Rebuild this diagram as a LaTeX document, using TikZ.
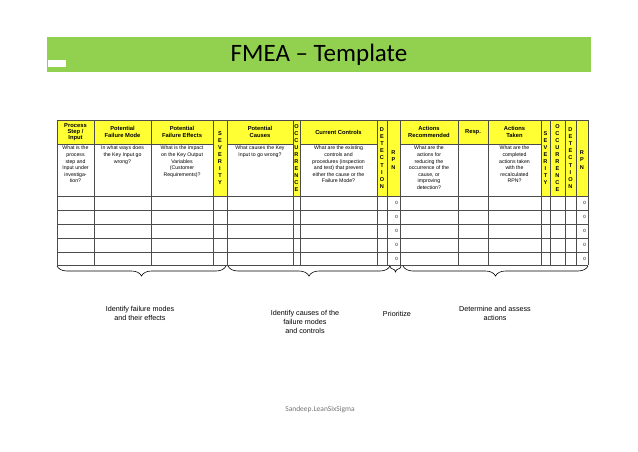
\documentclass[tikz,border=0pt]{standalone}
\usepackage{fontspec}
\setmainfont{Carlito}
\newfontfamily\arialfont{Liberation Sans}
\usetikzlibrary{decorations.pathreplacing}
\definecolor{titlegreen}{HTML}{92D050}
\definecolor{hdryellow}{HTML}{FFFF33}
\begin{document}
\begin{tikzpicture}[x=1pt,y=-1pt,
  cellline/.style={draw=black!70, line width=0.5pt},
  hdrtext/.style={font=\arialfont\fontsize{5.8}{6.2}\selectfont\bfseries, align=center, inner sep=0pt},
  desctext/.style={font=\arialfont\fontsize{5.2}{6.6}\selectfont, align=center, inner sep=0pt, anchor=north},
  vlabel/.style={font=\arialfont\fontsize{5.6}{7.1}\selectfont\bfseries, align=center, inner sep=0pt},
  note/.style={font=\arialfont\fontsize{7.2}{9}\selectfont, align=center, inner sep=0pt},
  brace/.style={decorate, decoration={brace, mirror, amplitude=10pt}, line width=0.6pt}
  ]
  \useasboundingbox (0,0) rectangle (638,452);

  % title bar
  \fill[titlegreen] (47,37) rectangle (591,72);
  \fill[white] (48,60) rectangle (66,67);
  \node[font=\fontsize{25}{28}\selectfont] (title) at (319,55) {FMEA -- Template};

  % yellow header cells and rating columns
  \fill[hdryellow] (57,120) rectangle (588,144);
  \foreach \xa/\xb in {213/227, 293/300, 377/387, 387/400, 541/550, 550/565, 565/576, 576/588}
    \fill[hdryellow] (\xa,120) rectangle (\xb,196);

  % grid
  \foreach \xx in {57,94,151,213,227,293,300,377,387,400,458,488,541,550,565,576,588}
    \draw[cellline] (\xx,120) -- (\xx,265);
  \foreach \yy in {120,196,210,224,238,252,265}
    \draw[cellline] (57,\yy) -- (588,\yy);
  \foreach \xa/\xb in {57/213, 227/293, 300/377, 400/541}
    \draw[cellline] (\xa,144) -- (\xb,144);

  % header texts
  \node[hdrtext] (hstep) at (75.5,132) {Process\\Step /\\Input};
  \node[hdrtext] (hmode) at (122.5,132) {Potential\\Failure Mode};
  \node[hdrtext] (heff) at (182,132) {Potential\\Failure Effects};
  \node[hdrtext] (hcause) at (260,132) {Potential\\Causes};
  \node[hdrtext] (hctrl) at (338.5,132) {Current Controls};
  \node[hdrtext] (hact) at (429,132) {Actions\\Recommended};
  \node[hdrtext] (hresp) at (473,132) {Resp.};
  \node[hdrtext] (htaken) at (514.5,132) {Actions\\Taken};

  % descriptions
  \node[desctext] (dstep) at (75.5,146) {What is the\\process\\step and\\Input under\\investiga-\\tion?};
  \node[desctext] (dmode) at (122.5,146) {In what ways does\\the Key Input go\\wrong?};
  \node[desctext] (deff) at (182,146) {What is the impact\\on the Key Output\\Variables\\(Customer\\Requirements)?};
  \node[desctext] (dcause) at (260,146) {What causes the Key\\Input to go wrong?};
  \node[desctext] (dctrl) at (338.5,146) {What are the existing\\controls and\\procedures (inspection\\and test) that prevent\\either the cause or the\\Failure Mode?};
  \node[desctext] (dact) at (429,146) {What are the\\actions for\\reducing the\\occurrence of the\\cause, or\\improving\\detection?};
  \node[desctext] (dtaken) at (514.5,146) {What are the\\completed\\actions taken\\with the\\recalculated\\RPN?};

  % vertical labels
  \node[vlabel] (vsev) at (220,158) {S\\E\\V\\E\\R\\I\\T\\Y};
  \node[vlabel] (vocc) at (296.5,158) {O\\C\\C\\U\\R\\R\\E\\N\\C\\E};
  \node[vlabel] (vdet) at (382,158) {D\\E\\T\\E\\C\\T\\I\\O\\N};
  \node[vlabel] (vrpn) at (393.5,160) {R\\P\\N};
  \node[vlabel] (vsevb) at (545.5,158) {S\\E\\V\\E\\R\\I\\T\\Y};
  \node[vlabel] (voccb) at (557.5,158) {O\\C\\C\\U\\R\\R\\E\\N\\C\\E};
  \node[vlabel] (vdetb) at (570.5,158) {D\\E\\T\\E\\C\\T\\I\\O\\N};
  \node[vlabel] (vrpnb) at (582,160) {R\\P\\N};

  % zero scores
  \foreach \yy [count=\i] in {203,217,231,245,258.5} {
    \node[font=\arialfont\fontsize{4.5}{5}\selectfont, anchor=east, inner sep=0pt] (za\i) at (398,\yy) {0};
    \node[font=\arialfont\fontsize{4.5}{5}\selectfont, anchor=east, inner sep=0pt] (zb\i) at (586,\yy) {0};
  }

  % braces and notes
  \coordinate (b1a) at (57,266);  \coordinate (b1b) at (226,266);
  \coordinate (b2a) at (228,266); \coordinate (b2b) at (390,266);
  \coordinate (b3a) at (390,266); \coordinate (b3b) at (401,266);
  \coordinate (b4a) at (403,266); \coordinate (b4b) at (588,266);
  \draw[brace] (b1a) -- (b1b);
  \draw[brace] (b2a) -- (b2b);
  \draw[brace, decoration={amplitude=6pt}] (b3a) -- (b3b);
  \draw[brace] (b4a) -- (b4b);
  \node[note] (n1) at (140,313) {Identify failure modes\\and their effects};
  \node[note] (n2) at (305,322) {Identify causes of the\\failure modes\\and controls};
  \node[note] (n3) at (397,314) {Prioritize};
  \node[note] (n4) at (495,313) {Determine and assess\\actions};

  \node[font=\fontsize{7.5}{9}\selectfont, text=black!55] (footer) at (320,410) {Sandeep.LeanSixSigma};
\end{tikzpicture}
\end{document}
